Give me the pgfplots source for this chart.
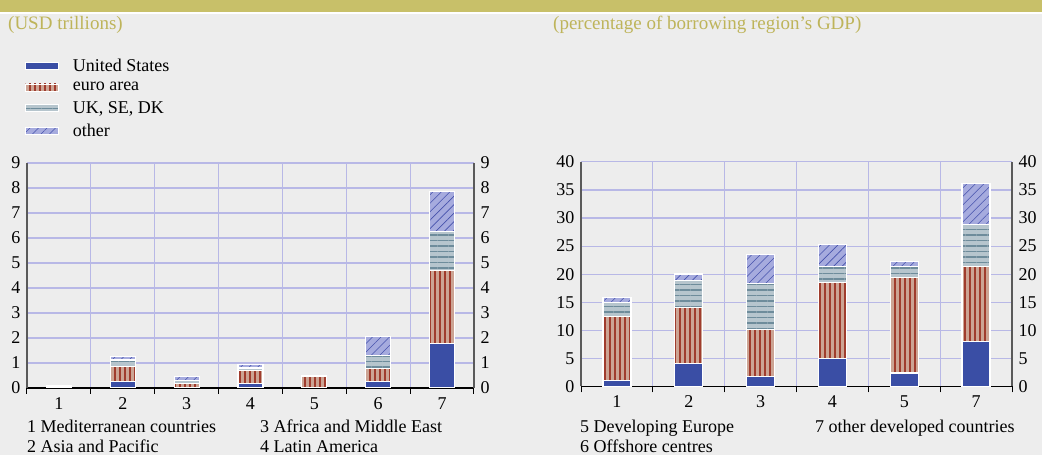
\documentclass[border=0pt]{standalone}
\usepackage{fontspec}
\setmainfont{Liberation Serif}
\usepackage{pgfplots}
\pgfplotsset{compat=1.18}
\usepackage{pgfplotstable}
\usetikzlibrary{patterns.meta}
\definecolor{bg}{RGB}{237,237,237}
\definecolor{band}{RGB}{200,192,105}
\definecolor{titlecol}{RGB}{190,180,90}
\definecolor{gridcol}{RGB}{184,184,230}
\definecolor{usblue}{RGB}{58,78,165}
\definecolor{salmon}{RGB}{204,164,148}
\definecolor{eured}{RGB}{160,60,45}
\definecolor{ukfill}{RGB}{182,197,205}
\definecolor{ukline}{RGB}{110,140,155}
\definecolor{otfill}{RGB}{166,171,222}
\definecolor{otline}{RGB}{70,82,172}
\definecolor{axgray}{RGB}{90,90,90}

\pgfplotstableread{
x US EA UK OT
1 0.00 0.07 0.01 0.01
2 0.25 0.60 0.27 0.13
3 0.02 0.17 0.12 0.14
4 0.19 0.50 0.11 0.15
5 0.02 0.44 0.02 0.00
6 0.25 0.53 0.53 0.74
7 1.78 2.91 1.57 1.61
}\lefttab

\pgfplotstableread{
x US EA UK OT
1 1.07 11.40 2.50 0.95
2 4.10 9.90 4.90 1.15
3 1.85 8.30 8.15 5.25
4 5.00 13.50 2.90 3.90
5 2.40 17.00 1.90 0.95
6 8.00 13.40 7.40 7.30
}\righttab

\tikzset{basefont/.style={font=\fontsize{18}{21}\selectfont},
         titlefont/.style={font=\fontsize{19}{22}\selectfont}}
\pgfplotsset{
  common/.style={
    scale only axis,
    anchor=south west,
    ybar stacked,
    ymin=0,
    /pgf/number format/assume math mode=true,
    tick label style={basefont, text=black},
    yticklabel style={xshift=-3pt},
    xticklabel style={yshift=-6pt},
    major tick length=0pt,
    minor tick length=6pt,
    tick align=outside,
    minor tick style={black, line width=1pt},
    axis x line*=bottom,
    axis y line*=left,
    x axis line style={black, line width=1.2pt},
    y axis line style={axgray, line width=1.8pt},
    ymajorgrids=true,
    xminorgrids=true,
    grid style={gridcol, line width=1.2pt},
    minor grid style={gridcol, line width=1.2pt},
    legend image code/.code={\draw[#1, line width=0.6pt] (0pt,-3.5pt) rectangle (33pt,3.5pt);},
  },
  rightlab/.style={
    scale only axis,
    anchor=south west,
    ymin=0,
    /pgf/number format/assume math mode=true,
    tick label style={basefont, text=black},
    yticklabel style={xshift=3pt},
    major tick length=0pt,
    axis x line=none,
    axis y line*=right,
    y axis line style={axgray, line width=1.8pt},
  },
  usst/.style={fill=usblue, draw=white, line width=1.2pt},
  east/.style={fill=salmon, draw=white, line width=1.2pt,
    postaction={pattern={Lines[angle=90,distance=5pt,line width=1.4pt]}, pattern color=eured}},
  ukst/.style={fill=ukfill, draw=white, line width=1.2pt,
    postaction={pattern={Lines[angle=0,distance=5.5pt,line width=1.1pt]}, pattern color=ukline}},
  otst/.style={fill=otfill, draw=white, line width=1.2pt,
    postaction={pattern={Lines[angle=45,distance=6pt,line width=0.6pt]}, pattern color=otline}},
}

\begin{document}
\begin{tikzpicture}[x=1pt,y=1pt]
\useasboundingbox (0,0) rectangle (1042,455);
\fill[bg] (0,0) rectangle (1042,455);
\fill[band] (0,443) rectangle (1042,455);
\fill[white] (0,441) rectangle (1042,443);
\node[anchor=base west, text=titlecol, titlefont, inner sep=0pt] at (8,425) {(USD trillions)};
\node[anchor=base west, text=titlecol, titlefont, inner sep=0pt] at (553,425) {(percentage of borrowing region’s GDP)};

% ---------- left panel ----------
\begin{axis}[common,
  at={(27pt,67pt)}, width=447pt, height=225pt,
  xmin=0.5, xmax=7.5, ymax=9, ytick={0,1,...,9},
  xtick={1,...,7}, xticklabels={1,2,3,4,5,6,7},
  minor xtick={0.5,1.5,...,7.5},
  bar width=25pt,
  legend style={at={(axis description cs:0,1)}, anchor=north west,
    xshift=-2pt, yshift=106pt, draw=none, fill=none, inner sep=0pt,
    font=\fontsize{18}{21}\selectfont, row sep=5.2pt, cells={anchor=west},
    /tikz/every odd column/.append style={column sep=12pt}},
]
\addplot[usst] table[x=x,y=US] {\lefttab};
\addplot[east] table[x=x,y=EA] {\lefttab};
\addplot[ukst] table[x=x,y=UK] {\lefttab};
\addplot[otst] table[x=x,y=OT] {\lefttab};
\legend{United States, euro area, {UK, SE, DK}, other}
\end{axis}
\begin{axis}[rightlab, at={(27pt,67pt)}, width=447pt, height=225pt,
  xmin=0.5, xmax=7.5, ymax=9, ytick={0,1,...,9}]
\addplot[draw=none] coordinates {(1,0)};
\end{axis}

% ---------- right panel ----------
\begin{axis}[common,
  at={(581pt,68.5pt)}, width=431pt, height=224.6pt,
  xmin=0.5, xmax=6.5, ymax=40, ytick={0,5,...,40},
  xtick={1,...,6}, xticklabels={1,2,3,4,5,7},
  minor xtick={0.5,1.5,...,6.5},
  bar width=28pt,
]
\addplot[usst] table[x=x,y=US] {\righttab};
\addplot[east] table[x=x,y=EA] {\righttab};
\addplot[ukst] table[x=x,y=UK] {\righttab};
\addplot[otst] table[x=x,y=OT] {\righttab};
\end{axis}
\begin{axis}[rightlab, at={(581pt,68.5pt)}, width=431pt, height=224.6pt,
  xmin=0.5, xmax=6.5, ymax=40, ytick={0,5,...,40}]
\addplot[draw=none] coordinates {(1,0)};
\end{axis}

% ---------- category notes ----------
\begin{scope}[every node/.style={anchor=base west, inner sep=0pt, basefont}]
\node at (27,22) {1 Mediterranean countries};
\node at (27,2) {2 Asia and Pacific};
\node at (260,22) {3 Africa and Middle East};
\node at (260,2) {4 Latin America};
\node at (580,22) {5 Developing Europe};
\node at (580,2) {6 Offshore centres};
\node at (815,22) {7 other developed countries};
\end{scope}
\end{tikzpicture}
\end{document}
